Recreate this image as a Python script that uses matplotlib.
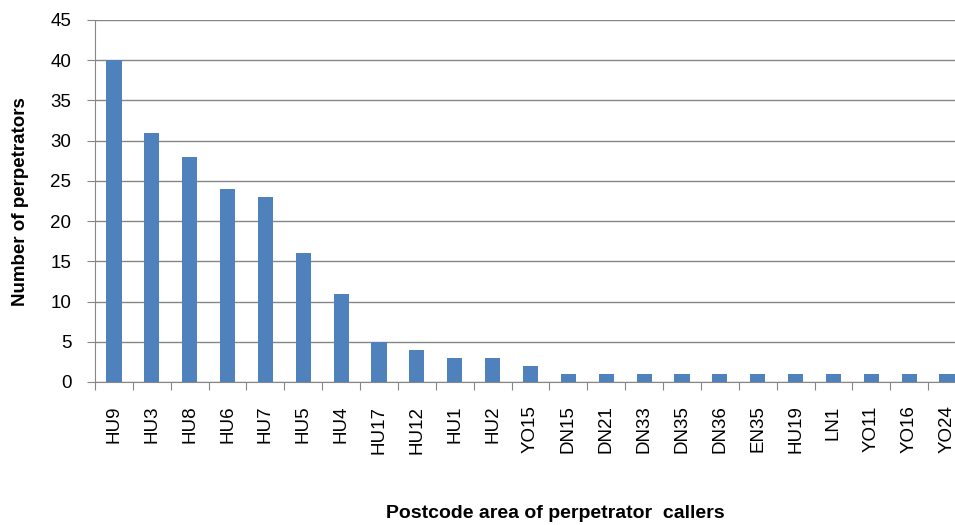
import matplotlib
matplotlib.use("Agg")
import matplotlib.pyplot as plt

plt.rcParams["font.family"] = ["Liberation Sans", "DejaVu Sans"]

areas = ["HU9", "HU3", "HU8", "HU6", "HU7", "HU5", "HU4", "HU17", "HU12", "HU1",
         "HU2", "YO15", "DN15", "DN21", "DN33", "DN35", "DN36", "EN35", "HU19",
         "LN1", "YO11", "YO16", "YO24"]
counts = [40, 31, 28, 24, 23, 16, 11, 5, 4, 3, 3, 2, 1, 1, 1, 1, 1, 1, 1, 1, 1, 1, 1]

W, H = 955, 525
fig = plt.figure(figsize=(W / 100, H / 100), dpi=100)
# plot area runs slightly past the right edge (cropped like the original)
left, right, top, bottom = 95, 966, 20, 382
ax = fig.add_axes([left / W, (H - bottom) / H, (right - left) / W, (bottom - top) / H])

bar_color = "#4F81BD"
grid_c = "#868686"
x = range(len(areas))
ax.bar(x, counts, width=0.4, color=bar_color, zorder=3)

ax.set_xlim(-0.5, len(areas) - 0.5)
ax.set_ylim(0, 45)
ax.set_yticks(range(0, 46, 5))
ax.yaxis.grid(True, color=grid_c, linewidth=1, zorder=0)

ax.set_xticks([i - 0.5 for i in range(len(areas) + 1)], minor=False)
ax.set_xticklabels([])
ax.set_xticks(list(x), minor=True)
ax.set_xticklabels(areas, minor=True, rotation=90, fontsize=13.5)
ax.tick_params(axis="x", which="major", length=6, color=grid_c, direction="out")
ax.tick_params(axis="x", which="minor", length=0, pad=17)
ax.tick_params(axis="y", length=6, color=grid_c, labelsize=13.5, pad=11)

for s in ["top", "right"]:
    ax.spines[s].set_visible(False)
for s in ["left", "bottom"]:
    ax.spines[s].set_color(grid_c)

fig.text(21 / W, 1 - 202 / H, "Number of perpetrators", rotation=90,
         ha="center", va="center", fontsize=13.5, fontweight="bold")
fig.text(555 / W, 1 - 513 / H, "Postcode area of perpetrator  callers",
         ha="center", va="center", fontsize=14, fontweight="bold")

fig.savefig("out.png", dpi=100)
